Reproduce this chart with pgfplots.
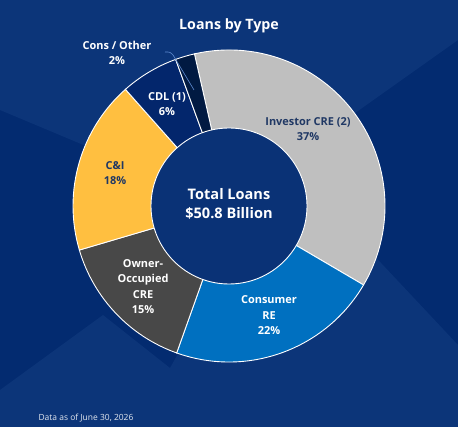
\documentclass[border=0pt]{standalone}
\usepackage{pgfplots}
\pgfplotsset{compat=1.18}
\usepackage{pgfplotstable}
\usepackage{fontspec}
\setmainfont{Open Sans}
\definecolor{bgL}{RGB}{12,53,121}
\definecolor{bgD}{RGB}{3,43,112}
\definecolor{cInv}{RGB}{191,191,191}
\definecolor{cCons}{RGB}{0,112,192}
\definecolor{cOwn}{RGB}{72,72,72}
\definecolor{cCI}{RGB}{255,191,64}
\definecolor{cCDL}{RGB}{3,38,108}
\definecolor{cOth}{RGB}{1,26,66}
\definecolor{cIn}{RGB}{10,50,118}
\definecolor{navytxt}{RGB}{32,56,100}
\definecolor{leader}{RGB}{95,140,210}
\pgfplotstableread{
label value
InvestorCRE 37
ConsumerRE 22
OwnerOccCRE 15
CandI 18
CDL 6
ConsOther 2
}\loantable
\begin{document}%
\begin{tikzpicture}
\pgfmathsetmacro\aO{102.8}
\pgfplotstablegetelem{0}{value}\of\loantable\pgfmathsetmacro\aA{\aO-3.6*\pgfplotsretval}
\pgfplotstablegetelem{1}{value}\of\loantable\pgfmathsetmacro\aB{\aA-3.6*\pgfplotsretval}
\pgfplotstablegetelem{2}{value}\of\loantable\pgfmathsetmacro\aC{\aB-3.6*\pgfplotsretval}
\pgfplotstablegetelem{3}{value}\of\loantable\pgfmathsetmacro\aD{\aC-3.6*\pgfplotsretval}
\pgfplotstablegetelem{4}{value}\of\loantable\pgfmathsetmacro\aE{\aD-3.6*\pgfplotsretval}
\pgfplotstablegetelem{5}{value}\of\loantable\pgfmathsetmacro\aF{\aE-3.6*\pgfplotsretval}
\begin{axis}[
  width=458bp, height=427bp, scale only axis,
  xmin=0, xmax=458, ymin=0, ymax=427,
  axis lines=none, ticks=none, clip=true,
]
% background
\fill[bgD] (axis cs:0,0) rectangle (axis cs:458,427);
\fill[bgL] (axis cs:0,427) -- (axis cs:458,427) -- (axis cs:458,387) -- (axis cs:286,265) -- (axis cs:229,221) -- (axis cs:0,317) -- cycle;
\fill[bgL] (axis cs:0,0) -- (axis cs:0,37) -- (axis cs:103,112) -- (axis cs:170,59) -- (axis cs:286,265) -- (axis cs:397,147) -- (axis cs:458,82) -- (axis cs:458,0) -- cycle;
% donut sectors
\filldraw[fill=cInv, draw=white, line width=0.9pt] (axis cs:229,221) -- ++(\aO:156bp) arc[start angle=\aO, end angle=\aA, radius=156bp] -- cycle;
\filldraw[fill=cCons, draw=white, line width=0.9pt] (axis cs:229,221) -- ++(\aA:156bp) arc[start angle=\aA, end angle=\aB, radius=156bp] -- cycle;
\filldraw[fill=cOwn, draw=white, line width=0.9pt] (axis cs:229,221) -- ++(\aB:156bp) arc[start angle=\aB, end angle=\aC, radius=156bp] -- cycle;
\filldraw[fill=cCI, draw=white, line width=0.9pt] (axis cs:229,221) -- ++(\aC:156bp) arc[start angle=\aC, end angle=\aD, radius=156bp] -- cycle;
\filldraw[fill=cCDL, draw=white, line width=0.9pt] (axis cs:229,221) -- ++(\aD:156bp) arc[start angle=\aD, end angle=\aE, radius=156bp] -- cycle;
\filldraw[fill=cOth, draw=white, line width=0.9pt] (axis cs:229,221) -- ++(\aE:156bp) arc[start angle=\aE, end angle=\aF, radius=156bp] -- cycle;
\filldraw[fill=cIn, draw=white, line width=0.9pt] (axis cs:229,221) circle[radius=78bp];
% leader line
\draw[leader, line width=0.6pt] (axis cs:165,375) .. controls (axis cs:170,375) .. (axis cs:173,372) -- (axis cs:194,337);
% labels
\node[text=white, font=\bfseries\fontsize{14.3}{17}\selectfont] at (axis cs:229,401) {Loans by Type};
\node[text=white, align=center, font=\bfseries\fontsize{11}{15.5}\selectfont] at (axis cs:117,374) {Cons / Other\\2\%};
\node[text=white, align=center, font=\bfseries\fontsize{11}{15.5}\selectfont] at (axis cs:167,323) {CDL (1)\\6\%};
\node[text=navytxt, align=center, font=\bfseries\fontsize{11}{15.5}\selectfont] at (axis cs:308,298) {Investor CRE (2)\\37\%};
\node[text=navytxt, align=center, font=\bfseries\fontsize{11}{15.5}\selectfont] at (axis cs:115,254) {C\&I\\18\%};
\node[text=white, align=center, font=\bfseries\fontsize{14.6}{18.5}\selectfont] at (axis cs:229,223) {Total Loans\\\$50.8 Billion};
\node[text=white, align=center, font=\bfseries\fontsize{11}{15.5}\selectfont] at (axis cs:143,140.5) {Owner-\\Occupied\\CRE\\15\%};
\node[text=white, align=center, font=\bfseries\fontsize{11}{15.5}\selectfont] at (axis cs:269,111.5) {Consumer\\RE\\22\%};
\node[text=white!88!bgL, font=\fontsize{8.5}{10}\selectfont] at (axis cs:86,9) {Data as of June 30, 2026};
\end{axis}
\pgfresetboundingbox
\path[use as bounding box] (current axis.south west) rectangle (current axis.north east);
\end{tikzpicture}%
\end{document}
